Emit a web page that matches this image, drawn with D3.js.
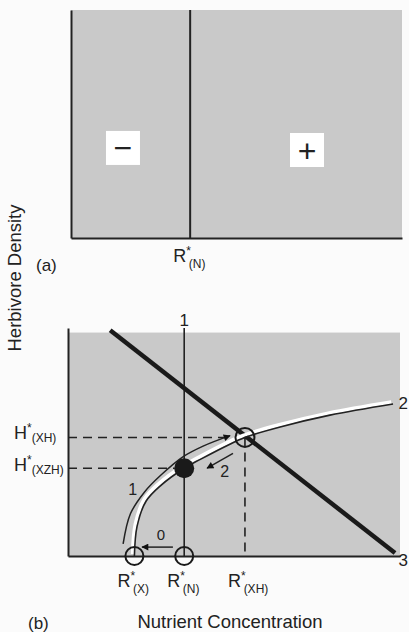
<!DOCTYPE html>
<meta charset="utf-8">
<style>
  body { margin: 0; background: #fbfbfb; }
  text { font-family: "Liberation Sans", Arial, sans-serif; fill: #222; }
</style>
<svg width="409" height="632"></svg>
<script src="https://d3js.org/d3.v7.min.js"></script>
<script>

// panel (a)
var rStarA = 3.6;
var signLabels = ["\u2212", "+"];
var signX = [1.57, 7.13];
var signY = [3.95, 3.86];

// panel (b), nutrient concentration / herbivore density in arbitrary units
var rStarX = 2.0, rStarN = 3.5, rStarXH = 5.33;
var hStarXH = 5.2, hStarXZH = 3.85;
var line3X = [1.27, 9.85];
var line3Y = [9.9, 0.13];
var curve2X = [2.0, 2.08, 2.35, 2.8, 3.5, 4.0, 4.8, 5.33, 6.39, 7.89, 9.79];
var curve2Y = [0, 1.3, 2.4, 3.1, 3.85, 4.25, 4.85, 5.2, 5.66, 6.18, 6.67];
var path1X = [1.66, 1.88, 2.3, 2.8, 3.46, 4.07, 4.88];
var path1Y = [0.53, 1.85, 2.8, 3.55, 4.35, 4.82, 5.28];
var arrow2X = [4.97, 4.19], arrow2Y = [4.5, 3.85];
var arrow0X = [3.16, 2.23], arrow0Y = [0.39, 0.39];

var svg = d3.select("svg");

svg.append("defs").append("marker")
    .attr("id", "head")
    .attr("viewBox", "0 0 10 10")
    .attr("refX", 9).attr("refY", 5)
    .attr("markerWidth", 9).attr("markerHeight", 7)
    .attr("markerUnits", "userSpaceOnUse")
    .attr("orient", "auto")
  .append("path")
    .attr("d", "M0,0L10,5L0,10z")
    .attr("fill", "#111");

var gray = "#c9c9c9";

// ---------- panel (a)
var xa = d3.scaleLinear().domain([0, 10]).range([71, 402]);
var ya = d3.scaleLinear().domain([0, 10]).range([238, 10]);

var ga = svg.append("g");
ga.append("rect")
    .attr("x", xa(0)).attr("y", ya(10))
    .attr("width", xa(10) - xa(0)).attr("height", ya(0) - ya(10))
    .attr("fill", gray);

ga.append("g")
    .attr("transform", "translate(0," + ya(0) + ")")
    .call(d3.axisBottom(xa).tickValues([]).tickSizeOuter(0))
    .select(".domain").attr("stroke", "#222").attr("stroke-width", 2);
ga.append("g")
    .attr("transform", "translate(" + xa(0) + ",0)")
    .call(d3.axisLeft(ya).tickValues([]).tickSizeOuter(0))
    .select(".domain").attr("stroke", "#222").attr("stroke-width", 2);

ga.append("line")
    .attr("x1", xa(rStarA)).attr("x2", xa(rStarA))
    .attr("y1", ya(10)).attr("y2", ya(0))
    .attr("stroke", "#222").attr("stroke-width", 2);

var signs = ga.selectAll(".sign").data(signLabels).enter().append("g")
    .attr("transform", function(d, i) { return "translate(" + xa(signX[i]) + "," + ya(signY[i]) + ")"; });
signs.append("rect")
    .attr("x", -17).attr("y", -17).attr("width", 34).attr("height", 34)
    .attr("fill", "#fff");
signs.append("text")
    .attr("text-anchor", "middle").attr("dy", "0.36em")
    .attr("font-size", 32)
    .text(function(d) { return d; });

// R* label: R, superscript *, subscript
function rLabel(g, cx, y, sub) {
  var x = cx - 17;
  var t = g.append("text").attr("x", x).attr("y", y).attr("font-size", 18);
  t.append("tspan").text("R");
  t.append("tspan").attr("dy", -7).attr("font-size", 12).text("*");
  t.append("tspan").attr("dy", 13).attr("dx", -2).attr("font-size", 12).text(sub);
  return t;
}

rLabel(ga, xa(rStarA), 262, "(N)");
ga.append("text").attr("x", 36).attr("y", 271).attr("font-size", 17).text("(a)");

svg.append("text")
    .attr("transform", "translate(21,278) rotate(-90)")
    .attr("text-anchor", "middle").attr("font-size", 18.5)
    .text("Herbivore Density");

// ---------- panel (b)
var xb = d3.scaleLinear().domain([0, 10]).range([68, 400]);
var yb = d3.scaleLinear().domain([0, 10]).range([556, 328]);

var gb = svg.append("g");
gb.append("rect")
    .attr("x", xb(0)).attr("y", yb(9.8))
    .attr("width", xb(10) - xb(0)).attr("height", yb(0) - yb(9.8))
    .attr("fill", gray);

gb.append("g")
    .attr("transform", "translate(0," + yb(0) + ")")
    .call(d3.axisBottom(xb).tickValues([]).tickSizeOuter(0))
    .select(".domain").attr("stroke", "#222").attr("stroke-width", 2);
gb.append("g")
    .attr("transform", "translate(" + xb(0) + ",0)")
    .call(d3.axisLeft(yb).tickValues([]).tickSizeOuter(0))
    .select(".domain").attr("stroke", "#222").attr("stroke-width", 2);

// dashed guides
var dash = "9,6";
gb.append("line").attr("x1", xb(0)).attr("x2", xb(4.8))
    .attr("y1", yb(hStarXH)).attr("y2", yb(hStarXH))
    .attr("stroke", "#222").attr("stroke-width", 1.6).attr("stroke-dasharray", dash);
gb.append("line").attr("x1", xb(0)).attr("x2", xb(3.2))
    .attr("y1", yb(hStarXZH)).attr("y2", yb(hStarXZH))
    .attr("stroke", "#222").attr("stroke-width", 1.6).attr("stroke-dasharray", dash);
gb.append("line").attr("x1", xb(rStarXH)).attr("x2", xb(rStarXH))
    .attr("y1", yb(hStarXH)).attr("y2", yb(0))
    .attr("stroke", "#222").attr("stroke-width", 1.6).attr("stroke-dasharray", dash);

// isocline 1 (vertical)
gb.append("line")
    .attr("x1", xb(rStarN)).attr("x2", xb(rStarN))
    .attr("y1", yb(10)).attr("y2", yb(0))
    .attr("stroke", "#222").attr("stroke-width", 1.6);

// isocline 3 (thick diagonal)
gb.append("line")
    .attr("x1", xb(line3X[0])).attr("y1", yb(line3Y[0]))
    .attr("x2", xb(line3X[1])).attr("y2", yb(line3Y[1]))
    .attr("stroke", "#1a1a1a").attr("stroke-width", 4.5);

// isocline 2 (curve with white band on its upper side)
var line = d3.line()
    .x(function(d) { return xb(d[0]); })
    .y(function(d) { return yb(d[1]); })
    .curve(d3.curveCatmullRom.alpha(0.5));
var c2 = d3.zip(curve2X, curve2Y);
gb.append("path").attr("d", line(c2))
    .attr("transform", "translate(-1.8,-2)")
    .attr("fill", "none").attr("stroke", "#fff").attr("stroke-width", 3.5);
gb.append("path").attr("d", line(c2))
    .attr("fill", "none").attr("stroke", "#222").attr("stroke-width", 1.6);

// trajectory arrows
var p1 = d3.zip(path1X, path1Y);
gb.append("path").attr("d", line(p1))
    .attr("fill", "none").attr("stroke", "#222").attr("stroke-width", 1.5)
    .attr("marker-end", "url(#head)");
gb.append("line")
    .attr("x1", xb(arrow2X[0])).attr("y1", yb(arrow2Y[0]))
    .attr("x2", xb(arrow2X[1])).attr("y2", yb(arrow2Y[1]))
    .attr("stroke", "#222").attr("stroke-width", 1.5).attr("marker-end", "url(#head)");
gb.append("line")
    .attr("x1", xb(arrow0X[0])).attr("y1", yb(arrow0Y[0]))
    .attr("x2", xb(arrow0X[1])).attr("y2", yb(arrow0Y[1]))
    .attr("stroke", "#222").attr("stroke-width", 1.5).attr("marker-end", "url(#head)");

// equilibrium points
var openPts = [[rStarX, 0, 9], [rStarN, 0, 9], [rStarXH, hStarXH, 9.5]];
gb.selectAll(".open").data(openPts).enter().append("circle")
    .attr("cx", function(d) { return xb(d[0]); })
    .attr("cy", function(d) { return yb(d[1]); })
    .attr("r", function(d) { return d[2]; })
    .attr("fill", "none").attr("stroke", "#1a1a1a").attr("stroke-width", 2);
gb.append("circle")
    .attr("cx", xb(rStarN)).attr("cy", yb(hStarXZH)).attr("r", 10)
    .attr("fill", "#1a1a1a");

// line and trajectory labels
var numLabels = [["1", rStarN, 10.35, 17], ["2", 10.1, 6.7, 17], ["3", 10.1, -0.15, 17],
                 ["1", 1.95, 2.95, 16], ["2", 4.72, 3.7, 16], ["0", 2.8, 0.95, 15]];
gb.selectAll(".num").data(numLabels).enter().append("text")
    .attr("x", function(d) { return xb(d[1]); })
    .attr("y", function(d) { return yb(d[2]); })
    .attr("font-size", function(d) { return d[3]; })
    .attr("text-anchor", "middle").attr("dy", "0.36em")
    .text(function(d) { return d[0]; });

// H* labels
function hLabel(g, y, sub) {
  var t = g.append("text").attr("x", 14).attr("y", y).attr("font-size", 18);
  t.append("tspan").text("H");
  t.append("tspan").attr("dy", -7).attr("font-size", 12).text("*");
  t.append("tspan").attr("dy", 10).attr("dx", 0).attr("font-size", 12).text(sub);
}
hLabel(gb, yb(hStarXH) + 2, "(XH)");
hLabel(gb, yb(hStarXZH) + 3, "(XZH)");

rLabel(gb, xb(rStarX), 587, "(X)");
rLabel(gb, xb(rStarN), 587, "(N)");
rLabel(gb, xb(rStarXH), 587, "(XH)");

gb.append("text").attr("x", 230).attr("y", 628).attr("text-anchor", "middle")
    .attr("font-size", 18.5).text("Nutrient Concentration");
gb.append("text").attr("x", 28).attr("y", 629).attr("font-size", 17).text("(b)");

</script>
